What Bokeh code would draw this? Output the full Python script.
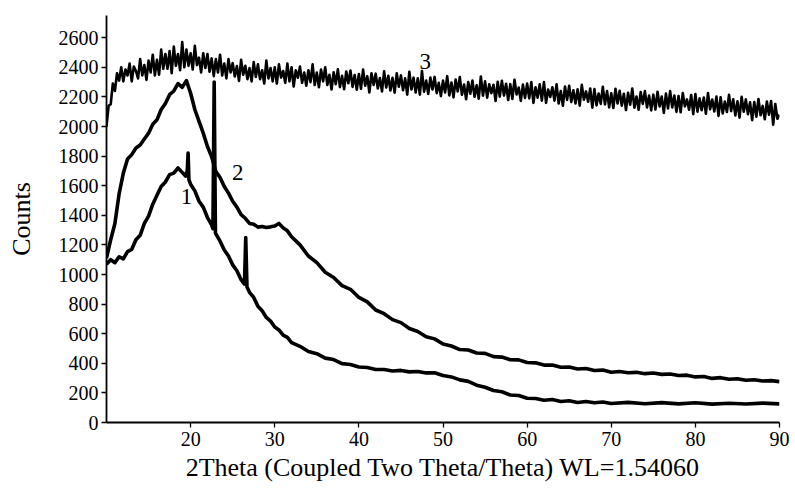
from bokeh.plotting import figure
from bokeh.models import Range1d, FixedTicker, Label
from bokeh.embed import file_html
from bokeh.resources import INLINE

# ---- data ----
curve1_pts = [(10, 1070), (10.5, 1100), (11, 1080), (11.5, 1120), (12, 1105), (12.5, 1155),
              (13, 1170), (13.5, 1235), (14, 1265), (14.5, 1345), (15, 1395), (15.5, 1475),
              (16, 1535), (16.5, 1595), (17, 1625), (17.5, 1675), (18, 1685), (18.5, 1720),
              (19, 1690), (19.4, 1665), (19.6, 1700), (19.7, 1820), (19.8, 1640), (20, 1610),
              (20.5, 1565), (21, 1495), (21.5, 1455), (22, 1385), (22.5, 1335), (22.65, 1310),
              (22.8, 2300), (22.95, 1280), (23.5, 1225), (24, 1165), (24.5, 1125), (25, 1065),
              (25.5, 1025), (26, 965), (26.4, 935), (26.55, 1250), (26.7, 915), (27, 880),
              (27.5, 845), (28, 785), (28.5, 755), (29, 710), (29.5, 685), (30, 645),
              (30.5, 625), (31, 590), (31.5, 575), (32, 540), (33, 515), (34, 480), (35, 465),
              (36, 435), (37, 425), (38, 398), (39, 392), (40, 375), (41, 372), (42, 358),
              (43, 358), (44, 348), (45, 352), (46, 342), (47, 345), (48, 335), (49, 336),
              (50, 318), (51, 308), (52, 288), (53, 278), (54, 252), (55, 238), (56, 216),
              (57, 208), (58, 186), (59, 182), (60, 164), (61, 162), (62, 150), (63, 155),
              (64, 142), (65, 147), (66, 135), (67, 142), (68, 133), (69, 138), (70, 128),
              (72, 136), (74, 127), (76, 134), (78, 126), (80, 133), (82, 124), (84, 130),
              (86, 125), (88, 131), (90, 126)]

curve2_pts = [(10, 1110), (10.5, 1235), (11, 1345), (11.5, 1545), (12, 1685), (12.5, 1780),
              (13, 1810), (13.5, 1855), (14, 1875), (14.5, 1915), (15, 1955), (15.5, 2015),
              (16, 2045), (16.5, 2115), (17, 2155), (17.5, 2215), (18, 2240), (18.5, 2290),
              (19, 2265), (19.5, 2310), (20, 2225), (20.5, 2115), (21, 2035), (21.5, 1955),
              (22, 1865), (22.5, 1795), (23, 1695), (23.5, 1655), (24, 1595), (24.5, 1550),
              (25, 1495), (25.5, 1455), (26, 1405), (26.5, 1380), (27, 1345), (27.5, 1340),
              (28, 1320), (28.5, 1325), (29, 1318), (29.5, 1322), (30, 1328), (30.5, 1345),
              (31, 1315), (31.5, 1295), (32, 1255), (33, 1200), (34, 1125), (35, 1080),
              (36, 1015), (37, 980), (38, 925), (39, 900), (40, 845), (41, 815), (42, 760),
              (43, 735), (44, 695), (45, 675), (46, 635), (47, 615), (48, 580), (49, 565),
              (50, 530), (51, 517), (52, 493), (53, 490), (54, 470), (55, 467), (56, 445),
              (57, 442), (58, 424), (59, 423), (60, 405), (61, 403), (62, 388), (63, 389),
              (64, 373), (65, 375), (66, 362), (67, 365), (68, 351), (69, 354), (70, 340),
              (71, 345), (72, 336), (73, 339), (74, 330), (75, 334), (76, 325), (77, 328),
              (78, 318), (79, 320), (80, 308), (81, 311), (82, 298), (83, 303), (84, 292),
              (85, 296), (86, 285), (87, 289), (88, 280), (89, 283), (90, 276)]

# curve 3: one row per degree (10, 11, ... 89), four readings per row (step 0.25), then 90
curve3_rows = [
    [2000, 2140, 2150, 2290], [2240, 2360, 2310, 2400], [2305, 2385, 2345, 2425],
    [2305, 2405, 2375, 2325], [2455, 2345, 2415, 2315], [2445, 2365, 2485, 2345],
    [2450, 2350, 2520, 2390], [2490, 2390, 2510, 2360], [2540, 2410, 2490, 2380],
    [2570, 2400, 2520, 2410], [2495, 2385, 2545, 2415], [2465, 2365, 2495, 2395],
    [2490, 2370, 2460, 2340], [2455, 2365, 2485, 2345], [2425, 2325, 2455, 2365],
    [2428, 2338, 2408, 2308], [2450, 2350, 2410, 2320], [2395, 2305, 2435, 2335],
    [2420, 2320, 2380, 2290], [2445, 2325, 2395, 2305], [2400, 2290, 2420, 2330],
    [2375, 2295, 2425, 2305], [2400, 2270, 2380, 2330], [2405, 2295, 2365, 2275],
    [2380, 2300, 2420, 2280], [2365, 2265, 2385, 2305], [2400, 2280, 2350, 2250],
    [2366, 2286, 2386, 2266], [2342, 2252, 2372, 2292], [2378, 2268, 2348, 2248],
    [2355, 2255, 2385, 2275], [2340, 2230, 2360, 2280], [2357, 2257, 2327, 2237],
    [2373, 2263, 2343, 2243], [2329, 2229, 2359, 2269], [2345, 2245, 2325, 2215],
    [2370, 2250, 2330, 2230], [2325, 2215, 2375, 2235], [2310, 2220, 2330, 2250],
    [2335, 2225, 2295, 2205], [2310, 2230, 2340, 2210], [2297, 2197, 2317, 2237],
    [2334, 2214, 2284, 2184], [2301, 2221, 2311, 2201], [2278, 2188, 2338, 2208],
    [2305, 2195, 2285, 2225], [2282, 2172, 2302, 2202], [2309, 2209, 2289, 2179],
    [2286, 2186, 2316, 2216], [2263, 2173, 2283, 2193], [2290, 2190, 2300, 2160],
    [2265, 2195, 2285, 2175], [2300, 2160, 2250, 2200], [2265, 2175, 2285, 2155],
    [2240, 2140, 2270, 2180], [2275, 2165, 2245, 2155], [2251, 2141, 2281, 2181],
    [2237, 2167, 2257, 2127], [2253, 2143, 2223, 2153], [2269, 2149, 2239, 2129],
    [2225, 2125, 2255, 2155], [2241, 2141, 2221, 2111], [2227, 2147, 2257, 2127],
    [2203, 2113, 2233, 2153], [2239, 2129, 2209, 2109], [2215, 2115, 2235, 2135],
    [2202, 2092, 2222, 2122], [2239, 2129, 2209, 2099], [2206, 2096, 2226, 2136],
    [2183, 2113, 2213, 2083], [2220, 2100, 2190, 2110], [2196, 2086, 2226, 2116],
    [2182, 2102, 2202, 2072], [2198, 2088, 2168, 2098], [2214, 2104, 2184, 2074],
    [2170, 2060, 2200, 2100], [2183, 2083, 2163, 2043], [2166, 2066, 2186, 2076],
    [2139, 2049, 2169, 2079], [2172, 2012, 2152, 2052]]
curve3_last = 2080

x1 = [a for a, b in curve1_pts]
y1 = [b for a, b in curve1_pts]
x2 = [a for a, b in curve2_pts]
y2 = [b for a, b in curve2_pts]
y3 = [v for row in curve3_rows for v in row] + [curve3_last]
x3 = [10 + 0.25 * i for i in range(len(y3))]

curve_labels = ["1", "2", "3"]
label_x = [19.5, 25.6, 47.9]
label_y = [1530, 1690, 2440]

x_ticks = [20, 30, 40, 50, 60, 70, 80, 90]
y_ticks = list(range(0, 2601, 200))
x_title = "2Theta (Coupled Two Theta/Theta) WL=1.54060"
y_title = "Counts"

FONT = "Liberation Serif"

p = figure(width=792, height=484, output_backend="svg", toolbar_location=None,
           x_range=Range1d(10, 90), y_range=Range1d(0, 2750),
           min_border_left=106, min_border_right=13, min_border_top=15, min_border_bottom=61)
p.outline_line_color = None
p.grid.visible = False
p.background_fill_color = "white"

p.line(x1, y1, line_color="black", line_width=3.6, line_join="round")
p.line(x2, y2, line_color="black", line_width=3.6, line_join="round")
p.line(x3, y3, line_color="black", line_width=2.6, line_join="round")

for t, lx, ly in zip(curve_labels, label_x, label_y):
    p.add_layout(Label(x=lx, y=ly, text=t, text_font=FONT, text_font_size="23px",
                       text_color="black", text_align="center", text_baseline="middle"))

p.xaxis.ticker = FixedTicker(ticks=x_ticks)
p.yaxis.ticker = FixedTicker(ticks=y_ticks)
for ax in (p.xaxis, p.yaxis):
    ax.axis_line_color = "black"
    ax.axis_line_width = 1.8
    ax.major_tick_line_color = "black"
    ax.major_tick_line_width = 1.3
    ax.major_tick_out = 5
    ax.major_tick_in = 0
    ax.minor_tick_line_color = None
    ax.major_label_text_font = FONT
    ax.major_label_text_font_size = "20px"
    ax.major_label_text_color = "black"
    ax.axis_label_text_font = FONT
    ax.axis_label_text_font_style = "normal"
    ax.axis_label_text_color = "black"
p.xaxis.major_label_standoff = 4
p.yaxis.major_label_standoff = 3
p.xaxis.axis_label = x_title
p.yaxis.axis_label = y_title
p.xaxis.axis_label_text_font_size = "26px"
p.yaxis.axis_label_text_font_size = "26px"
p.xaxis.axis_label_standoff = 4
p.yaxis.axis_label_standoff = 20

open("out.html", "w").write(file_html(p, INLINE))
